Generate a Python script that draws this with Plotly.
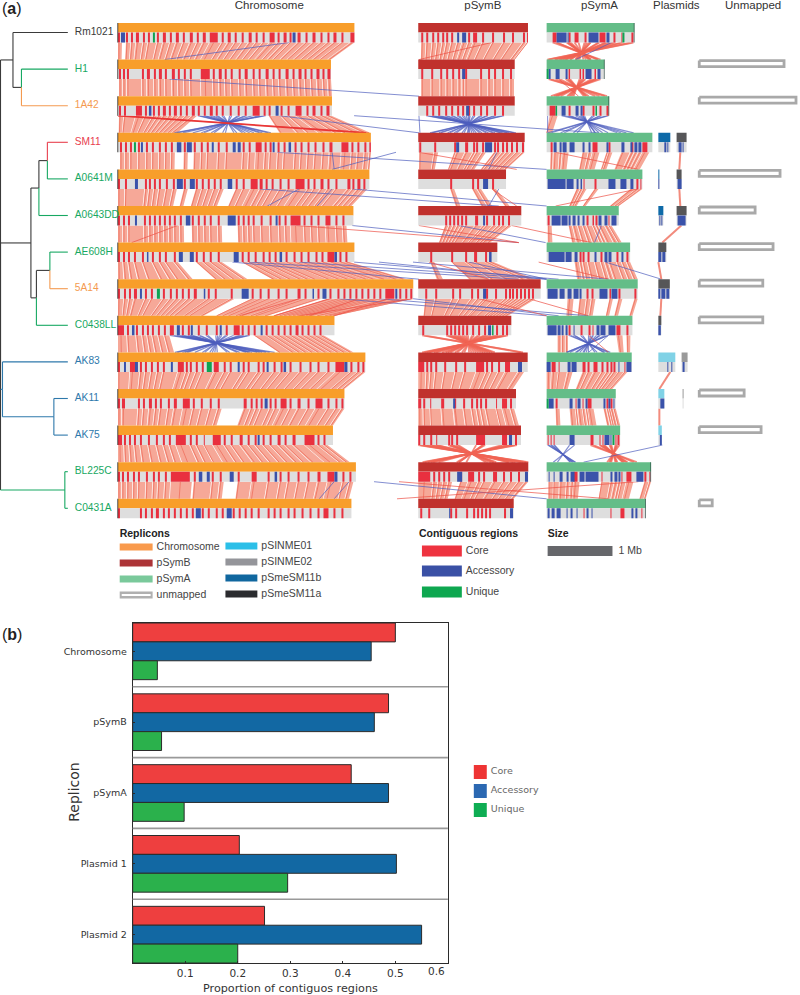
import numpy as np
import plotly.graph_objects as go

# strains, top to bottom. sizes and regions are in map units, 65 units = 1 Mb
strains = ["Rm1021", "H1", "1A42", "SM11", "A0641M", "A0643DD", "AE608H", "5A14",
           "C0438LL", "AK83", "AK11", "AK75", "BL225C", "C0431A"]
strain_group = ["black", "green", "orange", "red", "green", "green", "green", "orange",
                "green", "blue", "blue", "blue", "green", "green"]
MAP_UNITS_PER_MB = 65

chrom_size = [237, 213.5, 214.5, 253.5, 252, 236, 237, 296, 217, 248, 227, 215.5, 238.5, 234]
psymb_size = [110, 96.7, 96.7, 106.7, 88, 103.3, 79.3, 122.7, 93.3, 109.7, 98, 103, 110.3, 95.7]
psyma_size = [88, 58, 62.7, 106, 96, 72.3, 83.7, 91.3, 86, 85.3, 69.3, 73.7, 104.7, 99.3]

# (start, width) of contiguous regions per strain
chrom_core = [
    [(0,2),(8,2),(13,2),(18,3),(25,2),(30,2),(39,2),(45,3),(52,2),(58,3),(65,2),(72,3),(79,2),(85,3),(92,8),(104,2),(110,3),(117,2),(124,2),(131,3),(138,2),(145,2),(152,5),(160,2),(166,3),(172,2),(180,3),(188,2),(195,3),(203,2),(210,2),(216,3),(224,2),(233,4)],
    [(1,2),(5,2),(9,2),(24,2),(29,3),(36,2),(41,3),(47,2),(54,3),(60,2),(66,2),(72,2),(83,9),(95,2),(101,3),(107,2),(113,2),(121,2),(127,3),(135,2),(141,2),(148,3),(155,2),(161,2),(168,3),(175,2),(181,3),(187,2),(193,2),(199,3),(205,2),(210,3)],
    [(1,2),(6,2),(18,6),(27,2),(35,2),(40,2),(45,3),(51,2),(56,3),(62,2),(68,2),(74,3),(80,2),(86,2),(92,3),(98,2),(104,2),(112,2),(120,2),(127,2),(135,7),(146,2),(151,2),(163,2),(170,2),(178,6),(189,2),(195,3),(203,2),(209,3)],
    [(2,2),(7,2),(12,2),(20,2),(28,2),(34,2),(41,2),(47,2),(53,2),(66,2),(76,2),(83,2),(89,2),(100,2),(108,2),(125,2),(131,2),(138,6),(147,2),(152,2),(160,2),(166,2),(177,2),(183,2),(190,2),(197,2),(205,2),(212,3),(224,7),(234,2),(240,2),(247,2),(252,1.5)],
    [(0,2),(7,2),(27,2),(31,2),(36,2),(41,2),(48,2),(55,2),(66,2),(78,2),(84,2),(90,2),(96,2),(102,2),(118,2),(125,2),(133,7),(142,3),(148,2),(154,2),(162,2),(170,2),(178,9),(190,2),(196,2),(203,3),(210,2),(218,2),(230,3),(235,2),(240,3),(246,2)],
    [(0,2),(5,2),(10,2),(26,2),(31,2),(36,2),(41,2),(46,2),(51,2),(56,2),(62,2),(74,2),(80,2),(86,2),(92,2),(100,2),(120,2),(125,2),(130,2),(135,2),(143,2),(152,2),(161,2),(167,2),(173,10),(186,2),(193,2),(200,2),(208,5),(218,2),(225,2)],
    [(0,2),(5,2),(10,2),(16,2),(24,2),(34,2),(41,2),(47,2),(56,2),(78,2),(85,2),(92,2),(100,2),(124,2),(130,2),(137,2),(145,2),(151,2),(157,2),(168,2),(176,2),(183,2),(190,2),(198,2),(204,2),(210,7),(222,2),(228,2)],
    [(0,2),(6,2),(11,2),(16,3),(27,2),(33,2),(45,2),(52,2),(58,2),(64,2),(70,2),(76,3),(90,2),(97,2),(113,2),(134,2),(142,2),(150,2),(160,2),(168,2),(180,3),(187,2),(200,2),(212,2),(220,2),(226,2),(232,2),(238,2),(244,2),(250,2),(256,2),(262,2),(268,9),(282,2),(288,2),(293,2)],
    [(0,6),(9,2),(18,2),(24,2),(29,2),(34,2),(40,2),(46,2),(52,4),(64,2),(70,2),(80,2),(88,2),(98,2),(108,2),(116,6),(124,2),(130,2),(136,2),(148,2),(154,2),(160,2),(166,2),(172,2),(178,3),(184,2),(190,2),(196,2),(202,2)],
    [(0,2),(12,5),(22,2),(27,2),(33,2),(39,2),(45,2),(60,6),(68,2),(72,2),(78,2),(84,2),(96,5),(106,2),(112,2),(125,2),(130,2),(140,2),(145,2),(156,2),(163,2),(172,2),(182,2),(192,2),(200,2),(210,2),(218,9),(233,2),(240,2),(245,2)],
    [(0,2),(4,3),(20,2),(25,2),(31,3),(37,2),(42,2),(50,2),(56,3),(65,7),(75,2),(83,2),(92,2),(100,2),(126,3),(133,2),(138,2),(143,2),(152,2),(157,2),(163,6),(172,2),(180,3),(190,2),(198,7),(210,2),(218,2),(224,2)],
    [(0,4),(6,2),(11,2),(16,2),(22,2),(30,2),(38,2),(45,2),(51,2),(58,10),(72,2),(78,2),(86,1),(95,8),(106,2),(113,2),(122,3),(130,2),(137,2),(145,2),(152,2),(160,3),(167,2),(175,3),(187,10),(200,2),(206,2)],
    [(0,2),(4,2),(9,2),(15,2),(20,2),(28,2),(35,2),(40,2),(47,2),(53,19),(76,2),(94,2),(102,2),(120,2),(134,5),(150,2),(162,2),(170,2),(180,2),(190,2),(200,3),(210,7),(225,2),(232,2)],
    [(0,2),(22,2),(27,2),(33,2),(38,3),(45,2),(50,2),(56,2),(62,2),(68,2),(74,2),(84,2),(90,2),(98,2),(104,2),(115,2),(121,2),(127,2),(133,2),(140,2),(150,2),(156,2),(162,2),(170,2),(176,2),(184,2),(192,2),(200,2),(206,5),(216,2),(224,2)],
]
chrom_acc = [
    [(3,4),(175,3)], [], [(31,2.5),(158,3)],
    [(23,2),(59,4.5),(69,5),(94,2),(115,3),(120,3),(155,2),(171,2.5)],
    [(17,3),(59,6),(72,5),(110,4.5)], [(17,2),(68,4.5),(110,8),(158,2)],
    [(29,1.5),(61,4),(72,4),(116,5),(162,2.5),(217,2.5)],
    [(22,2),(86,1.5),(124,7),(195,1.5),(205,4),(278,2)], [(14,2.5),(59,3),(73,2),(102,2),(143,2)],
    [(6,2),(17,3),(53,2),(120,2),(149,2),(166,2.5),(227,3)], [(147,3)], [(140,2)],
    [(81,3.5),(89,3),(112,4),(157,2.5),(217,3)], [(78,5),(109,5)],
]
chrom_uni = [[(35,2)], [], [], [(16,2)], [], [], [], [(39,3)], [], [(89,5)], [], [], [], []]

psymb_core = [
    [(3,2),(8,2),(14,2),(19,2),(24,2),(28,2),(33,2),(50,2),(55,4),(64,2),(74,2),(85,2),(94,2),(105,2),(109,1)],
    [(3,2),(13,2),(22,2),(28,2),(34,2),(40,2),(47,2),(62,2),(70,2),(76,2),(84,2),(92,2)],
    [(8,2),(14,2),(20,2),(27,2),(33,2),(39,2),(44,2),(50,2),(55,2),(62,2),(68,2),(76,2),(84,2)],
    [(1,2),(16,2),(36,2),(47,3),(55,2),(58,2),(64,2),(76,2),(79,2),(84,2),(88,2),(93,2),(98,2),(104,2)],
    [(32,2),(54,2),(59,2),(74,2)],
    [(27,2),(31,2),(35,2),(39,2),(43,2),(47,2),(57,3),(68,2),(75,2),(80,2),(84,2),(90,2)],
    [(12,2),(33,2),(47,2),(56,3),(67,2)],
    [(7,2),(17,2),(34,2),(41,2),(53,2),(59,2),(68,2),(77,2),(87,2),(91,2),(94,2),(98,2),(102,2),(106,2),(110,2),(114,2)],
    [(4,2),(28,2),(32,2),(36,2),(40,2),(44,2),(48,2),(54,2),(60,2),(66,2),(78,2),(84,2),(88,2)],
    [(0,6),(8,2),(12,2),(17,2),(26,2),(37,2),(46,2),(58,8),(68,2),(73,2),(80,2),(87,5)],
    [(0,3),(5,2),(12,1),(23,3),(36,2),(45,2),(53,2),(58,2),(62,2),(67,2),(78,1),(84,5),(92,2)],
    [(0,2),(5,2),(12,2),(18,1),(30,2),(33,2),(38,2),(58,7),(65,2),(84,5),(97,2)],
    [(0,12),(15,2),(20,2),(25,2),(30,2),(42,2),(50,6),(60,2),(65,2),(75,4),(85,2),(92,2),(100,2)],
    [(2,2),(10,2),(32,2),(37,2),(48,2),(55,2),(59,2),(63,2),(67,2),(71,2),(86,2)],
]
psymb_acc = [[(39,2),(44,4)], [(44,3)], [(48,3)], [(38,3),(67,7)], [(65,5)], [(65,2)], [(71,2.5)],
             [(65,3)], [(70,3)], [(100,4)], [(35,2)], [(91,3)], [(39,5),(107,3)], [(31,1),(92,3)]]
psymb_uni = [[], [], [], [], [], [], [], [], [(74,1.5)], [], [], [], [], []]

psyma_core = [
    [(6,4),(22,2),(28,4),(38,2),(53,6),(67,2),(75,1),(85,2)],
    [(22,1.5),(33,1.5),(36,1.5),(48,1.5)],
    [(3,6),(22,2),(36,2),(46,2),(53,2),(60,2)],
    [(4,2),(46,5),(62,2),(85,2),(96,5)],
    [(37,1),(48,2),(90,2),(94,1)],
    [(1,2),(40,2),(46,1.5),(49,2),(62,1)],
    [(33,2),(36,2),(41,2),(54,2),(70,2),(80,2)],
    [(40,2),(45,2),(63,1.5),(72,2),(88,2)],
    [(22,2),(34,2),(42,2),(46,1),(70,4),(80,2)],
    [(5,4),(12,1),(36,3),(41,2),(47,4),(55,2),(60,2),(64,2),(67,2),(78,1)],
    [(9,2),(29,1),(36,1),(41,4),(60,2),(64,2)],
    [(1,1),(4,1),(7,1),(44,3),(53,1),(56,1),(69,1),(71,2)],
    [(27,4),(55,1),(75,1),(80,5),(98,2),(103,1)],
    [(37,1),(64,1),(74,4),(95,1)],
]
psyma_acc = [
    [(10,10),(21,1),(42,2),(44,8),(60,3)],
    [(2,2),(9,4),(19,2),(39,6),(51,3)],
    [(15,4),(29,3),(34,2)],
    [(7,3),(13,2),(16,4),(23,5),(36,2),(42,2),(60,2),(75,3),(84,2),(88,3),(92,3)],
    [(1,18),(20,7),(30,2),(34,1.5),(62,7),(74,6),(84,3)],
    [(5,9),(15,6),(22,2),(26,3),(31,2),(36,2),(52,3),(58,3),(65,5)],
    [(2,16),(19,6),(28,3),(48,2),(58,3),(62,3),(75,2)],
    [(1,10),(13,5),(21,4),(27,5),(33,2),(53,8),(65,6)],
    [(1,9),(11,3),(15,2),(19,2),(27,1),(50,3),(54,5),(62,7)],
    [(0,4),(21,3),(25,5),(72,1),(80,5)],
    [(2,5),(23,3),(31,3),(39,2),(57,2),(62,2),(67,1)],
    [(23,5),(58,5),(64,1)],
    [(2,1),(7,1),(13,3),(20,2),(24,4),(33,5),(39,13),(64,2),(68,3),(72,2),(90,7)],
    [(1,2),(5,3),(10,4),(20,1),(24,2),(30,1),(40,2),(45,1),(85,2),(89,2)],
]
psyma_uni = [[(76,2)], [(0,2)], [(9,1.5),(49,1.5)], [], [], [], [], [], [], [], [(0,2)], [(66,2)], [], []]

# plasmids: only some strains carry them
plasmid1_row = [3, 4, 5, 6, 7, 8, 9, 10, 11]
plasmid1_size = [12, 1, 5, 8, 11.5, 3, 17, 6, 3.5]
plasmid1_name = ["pSmeSM11b", "pSmeSM11b", "pSmeSM11b", "pSmeSM11a", "pSmeSM11a", "pSmeSM11a",
                 "pSINME01", "pSINME01", "pSINME01"]
plasmid1_acc = [[(6,2),(9,1)], [(0,1)], [(1,1),(3,1)], [(0,3),(4,3)], [(0,2),(3,4),(8,3)], [(0,2.5)],
                [(9,1),(13,1)], [(2,4)], [(1.5,2)]]
plasmid2_row = [3, 4, 5, 9, 10]
plasmid2_start = [0, 0, 0, 5, 6]
plasmid2_size = [10, 5, 10, 6, 1]
plasmid2_name = ["pSmeSM11a", "pSmeSM11a", "pSmeSM11a", "pSINME02", "pSINME02"]
plasmid2_acc = [[(2,3),(6,1)], [(1,4)], [(1,8)], [(1,2)], []]

unmapped_row = [1, 2, 4, 5, 6, 7, 8, 10, 11, 13]
unmapped_size = [88, 100, 84, 59, 77, 66.7, 66.7, 48, 65, 16]

# reversed stretches between a strain and the next: column, row, top from/to, bottom from/to, kind
inversions = [
    ("chrom", 2, 76, 149, 55, 159, "blue"), ("chrom", 8, 52, 132, 57, 157, "blue"),
    ("psymb", 2, 0, 96.7, 0, 106.7, "blue"), ("psymb", 8, 0, 93.3, 0, 109.7, "salmon"),
    ("psymb", 11, 0, 103, 0, 110.3, "salmon"),
    ("psyma", 0, 0, 88, 0, 58, "salmon"), ("psyma", 1, 0, 58, 0, 62.7, "salmon"),
    ("psyma", 2, 8, 62.7, 0, 100, "blue"), ("psyma", 8, 20, 62, 20, 66, "blue"),
    ("psyma", 11, 0, 30, 5, 30, "blue"), ("psyma", 11, 30, 73.7, 60, 104.7, "salmon"),
]

# long hits that leave their column: row, position on the strain above, on the strain below, kind
cross_row = [0,0,0, 1,1, 2,2,2,2,2, 3,3,3,3,3,3, 4,4,4,4,4,4,4, 5,5,5,5,5,5,5,
             6,6,6,6,6,6,6,6,6,6, 7,7,7,7,7,7,7,7,7,7, 8,8, 12,12,12,12,12,
             3,4,5,6,7,9,10,11]
cross_top = [290,493,613, 170,560, 118,280,420,549,355, 278,397,333,498,557,420, 260,300,333,353,640,493,500,
             297,178,353,460,420,603,513,
             233,250,300,355,380,414,430,470,607,540, 300,330,360,390,414,340,380,414,480,530, 590,610,
             375,400,640,350,335, 682,681,683,660,663,672,661,664]
cross_bot = [165,420,577, 420,580, 370,420,421,549,600, 548,333,335,490,640,518, 500,268,318,548,557,518,490,
             520,132,520,547,520,596,593,
             420,520,548,560,548,610,490,548,663,610, 240,275,310,335,300,548,590,560,548,590, 610,590,
             548,610,398,335,320, 681,682,664,663,662,661,661,585]
cross_kind = (["blue","red","blue", "blue","red", "red","blue","blue","blue","blue",
               "blue","blue","blue","blue","red","red", "blue","blue","blue","blue","red","red","blue",
               "red","red","blue","blue","red","blue","red",
               "blue","blue","blue","blue","blue","blue","red","blue","blue","red",
               "red","red","red","red","red","blue","blue","blue","red","red", "red","blue",
               "blue","red","red","blue","blue"] + ["pink"] * 7 + ["blue"])

# tree: node -> depth and children, leaves are strain names
tree_depth = {"root": 0.5, "n1": 13, "n2": 21.5, "n3": 31, "n4": 39, "n5": 47.5, "n6": 36.5,
              "n7": 50, "n8": 2.5, "n9": 54, "n10": 65}
tree_children = {"root": ["n1", "n3", "n8", "n10"], "n1": ["Rm1021", "n2"], "n2": ["H1", "1A42"],
                 "n3": ["n4", "n6"], "n4": ["n5", "A0643DD"], "n5": ["SM11", "A0641M"],
                 "n6": ["n7", "C0438LL"], "n7": ["AE608H", "5A14"], "n8": ["AK83", "n9"],
                 "n9": ["AK11", "AK75"], "n10": ["BL225C", "C0431A"]}
tree_node_color = {"n8": "blue", "n9": "blue", "n10": "green"}

# panel b
replicons = ["Chromosome", "pSymB", "pSymA", "Plasmid 1", "Plasmid 2"]
core_share = [0.500, 0.487, 0.416, 0.203, 0.251]
accessory_share = [0.454, 0.460, 0.487, 0.502, 0.550]
unique_share = [0.047, 0.055, 0.098, 0.295, 0.200]
share_ticks = [0.1, 0.2, 0.3, 0.4, 0.5, 0.6]

# layout
ROW_TOP = 23
ROW_STEP = 36.6
BAR_H = 9.5
STRIP_H = 10
COL_X = {"chrom": 118.3, "psymb": 419.3, "psyma": 548}
PLASMID1_X = 660
PLASMID2_X = 678.3
UNMAPPED_X = 699.5
TREE_END = 68

GROUP_COLOR = {"black": "#3a3a3a", "green": "#17a862", "orange": "#f49a50", "red": "#e8404f", "blue": "#2e78ab"}
BAR_COLOR = {"chrom": "#f89e2a", "psymb": "#c0312d", "psyma": "#64bd88", "pSINME01": "#80d2e6",
             "pSINME02": "#9a9a9a", "pSmeSM11b": "#0e6aa8", "pSmeSM11a": "#565658"}
RED, BLUE, GREEN, GREY = "#e9303f", "#3a52aa", "#0fa352", "#dedede"
PINK, PINK_DARK = "#f6a898", "rgba(238,104,86,0.7)"
HIT_COLOR = {"blue": "rgba(78,94,190,0.7)", "red": "rgba(236,80,70,0.7)", "pink": "#f28b7d",
             "salmon": "rgba(240,100,84,0.75)"}
FONT = "Liberation Sans"


def row_top(i):
    return ROW_TOP + ROW_STEP * i


layers = {}  # order of first use is the drawing order


def rect(layer, color, x0, x1, y0, y1):
    xs, ys = layers.setdefault((layer, color), ([], []))
    xs += [x0, x1, x1, x0, x0, None]
    ys += [y0, y0, y1, y1, y0, None]


def quad(layer, color, a, b, c, d, y0, y1):
    xs, ys = layers.setdefault((layer, color), ([], []))
    xs += [a, b, d, c, a, None]
    ys += [y0, y0, y1, y1, y0, None]


lines = {}


def line(color, width, x0, y0, x1, y1):
    xs, ys = lines.setdefault((color, width), ([], []))
    xs += [x0, x1, None]
    ys += [y0, y1, None]


columns = {
    "chrom": (chrom_size, chrom_core, chrom_acc, chrom_uni),
    "psymb": (psymb_size, psymb_core, psymb_acc, psymb_uni),
    "psyma": (psyma_size, psyma_core, psyma_acc, psyma_uni),
}
# the plasmid-sized columns have few core blocks, so ribbons start at every block there
GAP_LIMIT = {"chrom": 22, "psymb": 20, "psyma": 10}

# ribbons between neighbours
for name, (sizes, core, acc, uni) in columns.items():
    x0 = COL_X[name]
    for i in range(len(strains) - 1):
        y0 = row_top(i) + BAR_H + STRIP_H
        y1 = row_top(i + 1)
        spans = sorted(v[2:6] for v in inversions if v[0] == name and v[1] == i)
        xp, fp = [0], [0]
        for t0, t1, b0, b1 in spans:
            if t0 > xp[-1]:
                xp.append(t0)
                fp.append(b0)
            if t1 > xp[-1]:
                xp.append(t1)
                fp.append(b1)
        if sizes[i] > xp[-1]:
            xp.append(sizes[i])
            fp.append(sizes[i + 1])
        blocks = core[i] if name == "chrom" else sorted(core[i] + [a for a in acc[i] if a[1] < 5])
        for k, (s, w) in enumerate(blocks):
            if any(t0 <= s <= t1 for t0, t1, b0, b1 in spans):
                continue
            e = s + w + 2
            if k + 1 < len(blocks):
                nxt = blocks[k + 1][0]
                blocked = any(s < a[0] < nxt and a[1] >= 4 for a in acc[i])
                if not blocked and nxt - s < GAP_LIMIT[name]:
                    e = nxt - 0.7
            e = min(e, sizes[i])
            quad("ribbon", PINK, x0 + s, x0 + e, x0 + np.interp(s, xp, fp), x0 + np.interp(e, xp, fp), y0, y1)
            mid = s + w / 2
            line(PINK_DARK, 1, x0 + mid, y0, x0 + np.interp(mid, xp, fp), y1)

        # reversed stretches cross over
        for col, row, t0, t1, b0, b1, kind in inversions:
            if col != name or row != i:
                continue
            lw = 1.8 if kind == "salmon" else 1.2
            for s, w in sorted(core[i] + acc[i]):
                if t0 <= s <= t1:
                    u = b1 - (s - t0) / (t1 - t0) * (b1 - b0)
                    line(HIT_COLOR[kind], lw, x0 + s, y0, x0 + u, y1)
                    u = b1 - (min(s + w, t1) - t0) / (t1 - t0) * (b1 - b0)
                    line(HIT_COLOR[kind], lw, x0 + min(s + w, t1), y0, x0 + u, y1)

# hits that jump between replicons
for r, a, b, kind in zip(cross_row, cross_top, cross_bot, cross_kind):
    width = 2 if kind == "pink" else 1
    line(HIT_COLOR[kind], width, a, row_top(r) + BAR_H + STRIP_H, b, row_top(r + 1))
# the heavy red hit across 1A42/SM11
line("rgba(232,50,50,0.95)", 1.8, COL_X["chrom"], row_top(2) + BAR_H + STRIP_H, 367, row_top(3))


def strip(x0, y, core, acc, uni):
    for s, w in core:
        rect("strip", RED, x0 + s, x0 + s + w, y, y + STRIP_H)
    for s, w in acc:
        rect("strip", BLUE, x0 + s, x0 + s + w, y, y + STRIP_H)
    for s, w in uni:
        rect("strip", GREEN, x0 + s, x0 + s + w, y, y + STRIP_H)


for name, (sizes, core, acc, uni) in columns.items():
    x0 = COL_X[name]
    for i in range(len(strains)):
        y = row_top(i)
        rect("bar", BAR_COLOR[name], x0, x0 + sizes[i], y, y + BAR_H)
        rect("grey", GREY, x0, x0 + sizes[i], y + BAR_H, y + BAR_H + STRIP_H)
        strip(x0, y + BAR_H, core[i], acc[i], uni[i])
        if name == "chrom":
            rect("strip", "#222222", x0 - 0.6, x0 + 0.2, y, y + BAR_H + STRIP_H)
        if name == "psyma" and i in (0, 1, 2, 12, 13):
            rect("strip", "#24403a", x0 + sizes[i] - 0.6, x0 + sizes[i], y, y + BAR_H + STRIP_H)

for r, size, pname, acc in zip(plasmid1_row, plasmid1_size, plasmid1_name, plasmid1_acc):
    y = row_top(r)
    rect("bar", BAR_COLOR[pname], PLASMID1_X, PLASMID1_X + size, y, y + BAR_H)
    rect("grey", GREY, PLASMID1_X, PLASMID1_X + size, y + BAR_H, y + BAR_H + STRIP_H)
    strip(PLASMID1_X, y + BAR_H, [], acc, [])
for r, start, size, pname, acc in zip(plasmid2_row, plasmid2_start, plasmid2_size, plasmid2_name, plasmid2_acc):
    y = row_top(r)
    x0 = PLASMID2_X + start
    rect("bar", BAR_COLOR[pname], x0, x0 + size, y, y + BAR_H)
    rect("grey", GREY, x0, x0 + size, y + BAR_H, y + BAR_H + STRIP_H)
    strip(x0, y + BAR_H, [], acc, [])

fig = go.Figure()

for (lay, color), (xs, ys) in layers.items():
    if lay == "ribbon":
        fig.add_trace(go.Scatter(x=xs, y=ys, mode="lines", fill="toself", fillcolor=color,
                                 line=dict(width=0), hoverinfo="skip", xaxis="x", yaxis="y"))
for (color, width), (xs, ys) in lines.items():
    fig.add_trace(go.Scatter(x=xs, y=ys, mode="lines", line=dict(color=color, width=width),
                             hoverinfo="skip", xaxis="x", yaxis="y"))
for layer in ("bar", "grey", "strip"):
    for (lay, color), (xs, ys) in layers.items():
        if lay == layer:
            fig.add_trace(go.Scatter(x=xs, y=ys, mode="lines", fill="toself", fillcolor=color,
                                     line=dict(width=0), hoverinfo="skip", xaxis="x", yaxis="y"))

# unmapped boxes
ux, uy = [], []
for r, size in zip(unmapped_row, unmapped_size):
    y = row_top(r) + 1
    ux += [UNMAPPED_X + 1.5, UNMAPPED_X + size - 1.5, UNMAPPED_X + size - 1.5, UNMAPPED_X + 1.5, UNMAPPED_X + 1.5, None]
    uy += [y, y, y + 6, y + 6, y, None]
fig.add_trace(go.Scatter(x=ux, y=uy, mode="lines", line=dict(color="#a9a9a9", width=2.8), hoverinfo="skip"))


# tree
def leaf_y(name):
    return row_top(strains.index(name)) + BAR_H


def node_y(node):
    if node in strains:
        return leaf_y(node)
    ys = [node_y(c) for c in tree_children[node]]
    return (min(ys) + max(ys)) / 2


tree_lines = {}


def tree_seg(col, xs_new, ys_new):
    xs, ys = tree_lines.setdefault(col, ([], []))
    xs += xs_new + [None]
    ys += ys_new + [None]


for node, children in tree_children.items():
    nx = tree_depth[node]
    node_col = GROUP_COLOR[tree_node_color.get(node, "black")]
    for c in children:
        cy = node_y(c)
        is_leaf = c in strains
        cx = TREE_END if is_leaf else tree_depth[c]
        col = GROUP_COLOR[strain_group[strains.index(c)]] if is_leaf else GROUP_COLOR[tree_node_color.get(c, "black")]
        # the upright part keeps the node colour unless it leads straight to a strain
        tree_seg(col if is_leaf else node_col, [nx, nx], [node_y(node), cy])
        tree_seg(col, [nx, cx], [cy, cy])
for col, (xs, ys) in tree_lines.items():
    fig.add_trace(go.Scatter(x=xs, y=ys, mode="lines", line=dict(color=col, width=1.1), hoverinfo="skip"))

fig.add_trace(go.Scatter(
    x=[75] * len(strains), y=[leaf_y(s) for s in strains], text=strains, mode="text",
    textposition="middle right", hoverinfo="skip",
    textfont=dict(family=FONT, size=10.2, color=[GROUP_COLOR[g] for g in strain_group])))

titles = ["Chromosome", "pSymB", "pSymA", "Plasmids", "Unmapped"]
title_x = [270, 484, 601, 678, 755]
fig.add_trace(go.Scatter(x=title_x, y=[6] * 5, text=titles, mode="text", textposition="middle center",
                         hoverinfo="skip", textfont=dict(family=FONT, size=11.5, color="#333333")))

# panel a legend
legend_text_x, legend_text_y, legend_text = [], [], []


def swatch(label, color, x0, x1, y, h=7, tx=None):
    fig.add_trace(go.Scatter(x=[x0, x1, x1, x0, x0], y=[y - h / 2, y - h / 2, y + h / 2, y + h / 2, y - h / 2],
                             mode="lines", fill="toself", fillcolor=color, line=dict(width=0), hoverinfo="skip"))
    legend_text_x.append(tx if tx is not None else x1 + 4)
    legend_text_y.append(y)
    legend_text.append(label)


swatch("Chromosome", "#f99a4c", 120, 153, 547)
swatch("pSymB", "#ad3437", 120, 153, 563)
swatch("pSymA", "#7ac99b", 120, 153, 579)
swatch("unmapped", "#b0b0b0", 120, 153, 595)
fig.add_trace(go.Scatter(x=[122, 151], y=[595, 595], mode="lines", line=dict(color="white", width=2), hoverinfo="skip"))
swatch("pSINME01", "#2bbfe8", 226, 258, 546)
swatch("pSINME02", "#94959a", 226, 258, 562)
swatch("pSmeSM11b", "#10679f", 226, 258, 578)
swatch("pSmeSM11a", "#2a2b2e", 226, 258, 594)
swatch("Core", "#ee3340", 423, 463, 551, h=11)
swatch("Accessory", "#3a50a5", 423, 463, 571, h=11)
swatch("Unique", "#0ea750", 423, 463, 592, h=11)
swatch("1 Mb", "#66676b", 549, 549 + MAP_UNITS_PER_MB, 551, h=10, tx=620)
fig.add_trace(go.Scatter(x=legend_text_x, y=legend_text_y, text=legend_text, mode="text",
                         textposition="middle right", hoverinfo="skip",
                         textfont=dict(family=FONT, size=10.5, color="#444444")))
fig.add_trace(go.Scatter(x=[120, 420, 549], y=[534, 534, 534],
                         text=["<b>Replicons</b>", "<b>Contiguous regions</b>", "<b>Size</b>"], mode="text",
                         textposition="middle right", hoverinfo="skip",
                         textfont=dict(family=FONT, size=10.5, color="#222222")))

# panel b
y_pos = list(range(len(replicons)))
for vals, color in [(core_share, "#ee3f3f"), (accessory_share, "#1268a3"), (unique_share, "#2bb14c")]:
    fig.add_trace(go.Bar(x=vals, y=y_pos, orientation="h", marker=dict(color=color, line=dict(color="#2b2b2b", width=1)),
                         xaxis="x2", yaxis="y2", hoverinfo="skip"))

# panel b legend
for label, color, y in [("Core", "#ee3434", 772), ("Accessory", "#2b68b2", 791), ("Unique", "#0ead53", 810)]:
    fig.add_trace(go.Scatter(x=[475, 488, 488, 475, 475], y=[y - 7, y - 7, y + 7, y + 7, y - 7], mode="lines",
                             fill="toself", fillcolor=color, line=dict(width=0), hoverinfo="skip"))
fig.add_trace(go.Scatter(x=[492, 492, 492], y=[772, 791, 810], text=["Core", "Accessory", "Unique"], mode="text",
                         textposition="middle right", hoverinfo="skip",
                         textfont=dict(family="DejaVu Sans", size=9.5, color="#666666")))

annotations = [
    dict(x=0, y=8, xref="x", yref="y", text="(<b>a</b>)", showarrow=False, xanchor="left",
         font=dict(family=FONT, size=16, color="#222222")),
    dict(x=0, y=634, xref="x", yref="y", text="(<b>b</b>)", showarrow=False, xanchor="left",
         font=dict(family=FONT, size=16, color="#222222")),
    dict(x=291, y=988, xref="x", yref="y", text="Proportion of contiguos regions", showarrow=False,
         font=dict(family="DejaVu Sans", size=11.2, color="#333333")),
    dict(x=74, y=792, xref="x", yref="y", text="Replicon", textangle=-90, showarrow=False,
         font=dict(family="DejaVu Sans", size=14, color="#333333")),
    # last tick label sits inside the axis end
    dict(x=0.6, y=0, xref="x2", yref="y2 domain", yshift=-16, xshift=-1, text="0.6", showarrow=False, xanchor="right",
         font=dict(family="DejaVu Sans", size=10.5, color="#333333")),
]

shapes = [dict(type="line", xref="x2 domain", yref="y2", x0=0, x1=1, y0=d, y1=d, line=dict(color="#999999", width=1.6))
          for d in [0.5, 1.5, 2.5, 3.5]]

fig.update_layout(
    width=800, height=995, autosize=False, margin=dict(l=0, r=0, t=0, b=0),
    paper_bgcolor="white", plot_bgcolor="white", showlegend=False,
    barmode="group", bargap=0.2, bargroupgap=0,
    annotations=annotations, shapes=shapes,
    xaxis=dict(range=[0, 800], domain=[0, 1], visible=False, fixedrange=True),
    yaxis=dict(range=[995, 0], domain=[0, 1], visible=False, fixedrange=True),
    xaxis2=dict(range=[0, 0.6], domain=[133 / 800, 449 / 800], anchor="y2", showline=True, mirror=True,
                linecolor="#2b2b2b", linewidth=1, ticks="inside", ticklen=2, tickcolor="#2b2b2b",
                tickvals=share_ticks, ticktext=["0.1", "0.2", "0.3", "0.4", "0.5", " "], showgrid=False, zeroline=False,
                tickfont=dict(family="DejaVu Sans", size=10.5, color="#333333")),
    yaxis2=dict(range=[4.4, -0.4], domain=[1 - 963 / 995, 1 - 623 / 995], anchor="x2", showline=True, mirror=True,
                linecolor="#2b2b2b", linewidth=1, ticks="inside", ticklen=2, tickcolor="#2b2b2b",
                tickvals=y_pos, ticktext=replicons, showgrid=False, zeroline=False, ticklabelstandoff=3,
                tickfont=dict(family="DejaVu Sans", size=9.5, color="#333333")),
)

fig.write_html("out.html", config=dict(displayModeBar=False), post_script="document.body.style.margin='0';")
